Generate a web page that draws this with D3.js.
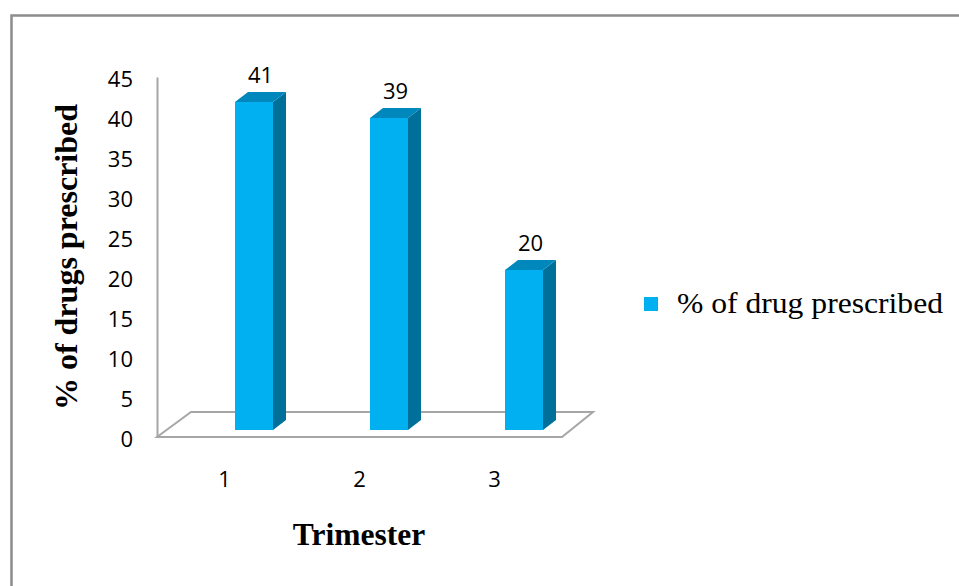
<!DOCTYPE html>
<html>
<head>
<meta charset="utf-8">
<script src="https://cdn.jsdelivr.net/npm/d3@7"></script>
<style>
  html, body { margin: 0; padding: 0; background: #ffffff; }
  svg { display: block; }
</style>
</head>
<body>
<div id="chart"></div>
<script>
// ---- Data ----
const categories = ["1", "2", "3"];
const values = [41, 39, 20];
const yTicks = [0, 5, 10, 15, 20, 25, 30, 35, 40, 45];
const seriesName = "% of drug prescribed";
const yTitle = "% of drugs prescribed";
const xTitle = "Trimester";

// ---- Layout ----
const W = 959, H = 586;
const svg = d3.select("#chart").append("svg").attr("width", W).attr("height", H);

// outer frame
svg.append("rect")
  .attr("x", 11.5).attr("y", 15.5)
  .attr("width", W + 20).attr("height", H + 20)
  .attr("fill", "none").attr("stroke", "#8c8c8c").attr("stroke-width", 2.5);

const frontLeft = 157, frontRight = 562, frontY = 437;
const floorDx = 34, floorDy = -25;
const yMax = 45;

const x = d3.scaleBand().domain(categories).range([frontLeft, frontRight]);
const yAxisScale = d3.scaleLinear().domain([0, yMax]).range([frontY, frontY - 360]);
const barBase = 430;
const yBar = d3.scaleLinear().domain([0, yMax]).range([barBase, barBase - 360]);

// floor
svg.append("polygon")
  .attr("points", [
    [frontLeft, frontY],
    [frontLeft + floorDx, frontY + floorDy],
    [frontRight + floorDx - 3, frontY + floorDy],
    [frontRight, frontY]
  ].map(p => p.join(",")).join(" "))
  .attr("fill", "none").attr("stroke", "#a6a6a6").attr("stroke-width", 2);

// y axis
const yAxis = d3.axisLeft(yAxisScale).tickValues(yTicks).tickSize(0).tickPadding(24);
const yg = svg.append("g").attr("transform", `translate(${frontLeft},0)`).call(yAxis);
yg.select(".domain").attr("stroke", "#a6a6a6").attr("stroke-width", 2);
yg.selectAll("text")
  .attr("font-family", "'Open Sans', sans-serif")
  .attr("font-size", 22).attr("fill", "#000")
  .attr("dy", "0.45em");

// x axis labels
const xAxis = d3.axisBottom(x).tickSize(0).tickPadding(34);
const xg = svg.append("g").attr("transform", `translate(0,${frontY})`).call(xAxis);
xg.select(".domain").remove();
xg.selectAll("text")
  .attr("font-family", "'Open Sans', sans-serif")
  .attr("font-size", 22).attr("fill", "#000");

// bars
const barW = 38, dx = 13, dy = -10, barShift = 29.5;
const bars = svg.append("g").selectAll("g").data(values).join("g");
bars.each(function(v, i) {
  const g = d3.select(this);
  const cx = x(categories[i]) + x.bandwidth() / 2 + barShift;
  const x0 = cx - barW / 2, x1 = cx + barW / 2;
  const top = yBar(v), base = yBar(0);
  g.append("polygon")
    .attr("points", [[x1, top], [x1 + dx, top + dy], [x1 + dx, base + dy], [x1, base]].map(p => p.join(",")).join(" "))
    .attr("fill", "#00709a");
  g.append("polygon")
    .attr("points", [[x0, top], [x0 + dx, top + dy], [x1 + dx, top + dy], [x1, top]].map(p => p.join(",")).join(" "))
    .attr("fill", "#0088bd");
  g.append("rect")
    .attr("x", x0).attr("y", top).attr("width", barW).attr("height", base - top)
    .attr("fill", "#00b0f0");
  g.append("text")
    .attr("x", cx + dx / 2).attr("y", top + dy - 9)
    .attr("text-anchor", "middle")
    .attr("font-family", "'Open Sans', sans-serif")
    .attr("font-size", 22).attr("fill", "#000")
    .text(v);
});

// y title
svg.append("text")
  .attr("transform", "translate(77,257) rotate(-90)")
  .attr("text-anchor", "middle")
  .attr("font-family", "'Liberation Serif', 'Times New Roman', serif")
  .attr("font-weight", "bold").attr("font-size", 32)
  .text(yTitle);

// x title
svg.append("text")
  .attr("x", 359).attr("y", 545)
  .attr("text-anchor", "middle")
  .attr("font-family", "'Liberation Serif', 'Times New Roman', serif")
  .attr("font-weight", "bold").attr("font-size", 31.5)
  .text(xTitle);

// legend
const lg = svg.append("g");
lg.append("rect").attr("x", 644).attr("y", 297).attr("width", 14).attr("height", 14).attr("fill", "#00b0f0");
lg.append("text")
  .attr("x", 677).attr("y", 313)
  .attr("font-family", "'Liberation Serif', 'Times New Roman', serif")
  .attr("font-size", 30).attr("fill", "#000")
  .attr("textLength", 266).attr("lengthAdjust", "spacingAndGlyphs")
  .text(seriesName);
</script>
</body>
</html>
